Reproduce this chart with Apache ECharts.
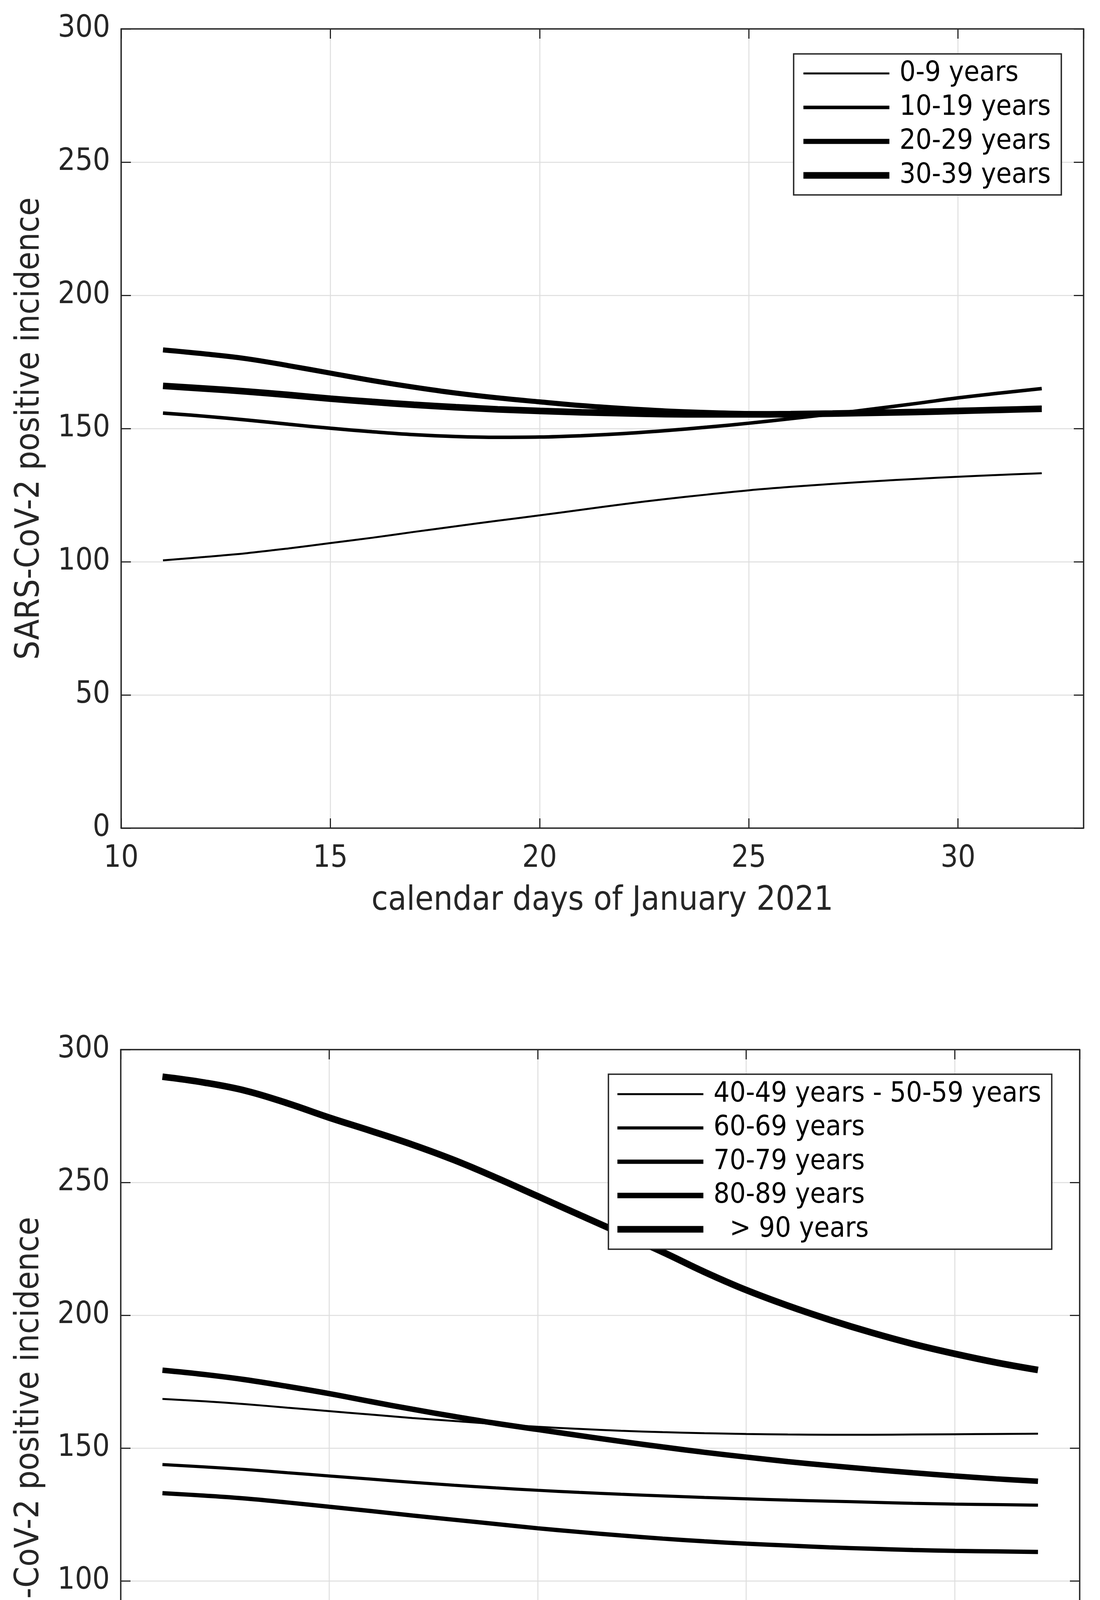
<!DOCTYPE html>
<html>
<head>
<meta charset="utf-8">
<style>
html,body{margin:0;padding:0;background:#fff;}
#chart{width:2815px;height:4981px;}
</style>
<script src="https://cdn.jsdelivr.net/npm/echarts@6/dist/echarts.min.js"></script>
</head>
<body>
<div id="chart"></div>
<script>
// ---- data ----
const days = [11,12,13,14,15,16,17,18,19,20,21,22,23,24,25,26,27,28,29,30,31,32];

const topNames = ['0-9 years', '10-19 years', '20-29 years', '30-39 years'];
const age0_9   = [100.5,101.8,103.2,105.0,107.0,109.0,111.2,113.3,115.4,117.4,119.5,121.6,123.5,125.2,126.8,128.1,129.2,130.2,131.1,131.9,132.6,133.2];
const age10_19 = [155.8,154.6,153.2,151.6,150.1,148.8,147.7,147.0,146.7,146.8,147.3,148.1,149.2,150.5,152.0,153.7,155.5,157.4,159.4,161.5,163.3,165.0];
const age20_29 = [179.5,178.0,176.2,173.6,170.8,168.0,165.5,163.3,161.5,160.0,158.6,157.5,156.6,156.0,155.6,155.5,155.7,156.0,156.4,156.8,157.2,157.5];
const age30_39 = [166.0,165.0,163.9,162.6,161.2,160.0,158.9,158.0,157.2,156.6,156.1,155.7,155.4,155.3,155.3,155.4,155.6,155.9,156.2,156.6,157.0,157.4];

const bottomNames = ['40-49 years - 50-59 years', '60-69 years', '70-79 years', '80-89 years', '  > 90 years'];
const age40_59  = [168.5,167.6,166.5,165.2,163.9,162.6,161.3,160.2,159.0,158.0,157.2,156.5,156.0,155.6,155.3,155.1,155.0,155.0,155.1,155.2,155.3,155.4];
const age60_69  = [143.8,142.9,141.9,140.7,139.5,138.3,137.1,136.0,135.0,134.1,133.3,132.6,132.0,131.4,130.9,130.4,130.0,129.6,129.2,128.9,128.7,128.5];
const age70_79  = [133.0,132.1,131.0,129.5,127.9,126.3,124.6,123.0,121.4,119.8,118.4,117.1,115.9,114.9,114.0,113.3,112.6,112.1,111.6,111.3,111.1,110.9];
const age80_89  = [179.3,177.7,175.7,173.2,170.5,167.5,164.6,161.9,159.3,157.0,154.7,152.5,150.4,148.4,146.6,144.9,143.4,142.0,140.7,139.5,138.4,137.5];
const age90plus = [289.8,287.6,284.5,279.8,274.4,269.4,264.2,258.4,251.8,244.8,237.8,230.8,223.8,216.3,209.5,203.6,198.3,193.5,189.2,185.5,182.2,179.4];

const xTicks = [10,15,20,25,30];
const yTicks = [0,50,100,150,200,250,300];
const xLabel = 'calendar days of January 2021';
const yLabel = 'SARS-CoV-2 positive incidence';

// ---- styling ----
const FONT = '"DejaVu Sans Condensed", "DejaVu Sans", sans-serif';
const TXT = '#262626';
const topWidths = [5, 9, 13, 17];
const bottomWidths = [5, 8, 11, 14, 17];
const ICON_W = 241, ICON_H = 60, LINE_LEN = 220;

function pairs(vals){ return days.map((d,i)=>[d, vals[i]]); }

// legend icon: a horizontal bar of the series' line width, centred in the icon box
function lineIcon(w){
  const y0 = (ICON_H - w) / 2;
  return 'path://M0,0h0.01v0.01h-0.01Z ' +
         'M0,' + y0 + 'h' + LINE_LEN + 'v' + w + 'h-' + LINE_LEN + 'Z ' +
         'M' + (ICON_W - 0.01) + ',' + (ICON_H - 0.01) + 'h0.01v0.01h-0.01Z';
}

function mainX(gridIndex){
  return {
    type:'value', gridIndex, position:'bottom',
    min: xTicks[0], max: 33, interval: 5,
    name: xLabel, nameLocation:'middle', nameGap: 144,
    nameTextStyle:{fontFamily:FONT, fontSize:86, color:TXT},
    axisLine:{show:true, onZero:false, lineStyle:{color:TXT, width:3.5}},
    axisTick:{show:true, inside:true, length:25, lineStyle:{color:TXT, width:3}},
    axisLabel:{show:true, margin:40, fontFamily:FONT, fontSize:78, color:TXT,
      showMaxLabel:false,
      formatter: v => xTicks.indexOf(v) >= 0 ? String(v) : ''},
    splitLine:{show:true, lineStyle:{color:'#dedede', width:2.5}}
  };
}
function boxX(gridIndex){
  return {
    type:'value', gridIndex, position:'top',
    min: xTicks[0], max: 33, interval: 5,
    axisLine:{show:true, onZero:false, lineStyle:{color:TXT, width:3.5}},
    axisTick:{show:true, inside:true, length:25, lineStyle:{color:TXT, width:3}},
    axisLabel:{show:false}, splitLine:{show:false}
  };
}
function mainY(gridIndex){
  return {
    type:'value', gridIndex, position:'left',
    min: yTicks[0], max: yTicks[yTicks.length-1], interval: 50,
    name: yLabel, nameLocation:'middle', nameGap: 190,
    nameTextStyle:{fontFamily:FONT, fontSize:86, color:TXT},
    axisLine:{show:true, onZero:false, lineStyle:{color:TXT, width:3.5}},
    axisTick:{show:true, inside:true, length:25, lineStyle:{color:TXT, width:3}},
    axisLabel:{show:true, margin:28, fontFamily:FONT, fontSize:78, color:TXT},
    splitLine:{show:true, lineStyle:{color:'#dedede', width:2.5}}
  };
}
function boxY(gridIndex){
  return {
    type:'value', gridIndex, position:'right',
    min: yTicks[0], max: yTicks[yTicks.length-1], interval: 50,
    axisLine:{show:true, onZero:false, lineStyle:{color:TXT, width:3.5}},
    axisTick:{show:true, inside:true, length:25, lineStyle:{color:TXT, width:3}},
    axisLabel:{show:false}, splitLine:{show:false}
  };
}

const topData = [age0_9, age10_19, age20_29, age30_39];
const bottomData = [age40_59, age60_69, age70_79, age80_89, age90plus];

const series = [];
topNames.forEach((n,i)=>{
  series.push({type:'line', name:n, xAxisIndex:0, yAxisIndex:0, data:pairs(topData[i]),
    symbol:'none', smooth:0.4, z: 5,
    lineStyle:{color:'#000', width:topWidths[i]}, itemStyle:{color:'#000'}});
});
bottomNames.forEach((n,i)=>{
  series.push({type:'line', name:n, xAxisIndex:2, yAxisIndex:2, data:pairs(bottomData[i]),
    symbol:'none', smooth:0.4, z: 5,
    lineStyle:{color:'#000', width:bottomWidths[i]}, itemStyle:{color:'#000'}});
});

function legend(names, widths, left, top, gap, pad){
  return {
    show:true, orient:'vertical', left, top,
    padding: pad, itemGap: gap, itemWidth: ICON_W, itemHeight: ICON_H,
    backgroundColor:'#fff', borderColor:TXT, borderWidth:3.5,
    selectedMode:false, align:'left', z: 10,
    itemStyle:{color:'#000', borderWidth:0},
    textStyle:{fontFamily:FONT, fontSize:72, color:'#000'},
    data: names.map((n,i)=>({name:n, icon: lineIcon(widths[i]),
      itemStyle:{color:'#000', borderWidth:0}}))
  };
}

const chart = echarts.init(document.getElementById('chart'), null, {renderer:'canvas', devicePixelRatio:1});
chart.setOption({
  animation:false,
  backgroundColor:'#fff',
  grid:[
    {left:310, top:74, width:2463, height:2046, containLabel:false},
    {left:309, top:2687, width:2454, height:2040, containLabel:false}
  ],
  xAxis:[mainX(0), boxX(0), mainX(1), boxX(1)],
  yAxis:[mainY(0), boxY(0), mainY(1), boxY(1)],
  legend:[
    legend(topNames, topWidths, 2031, 138, 15, [14,27,14,25]),
    legend(bottomNames, bottomWidths, 1557, 2750, 14.5, [15,27,15,23])
  ],
  series
});
</script>
</body>
</html>
